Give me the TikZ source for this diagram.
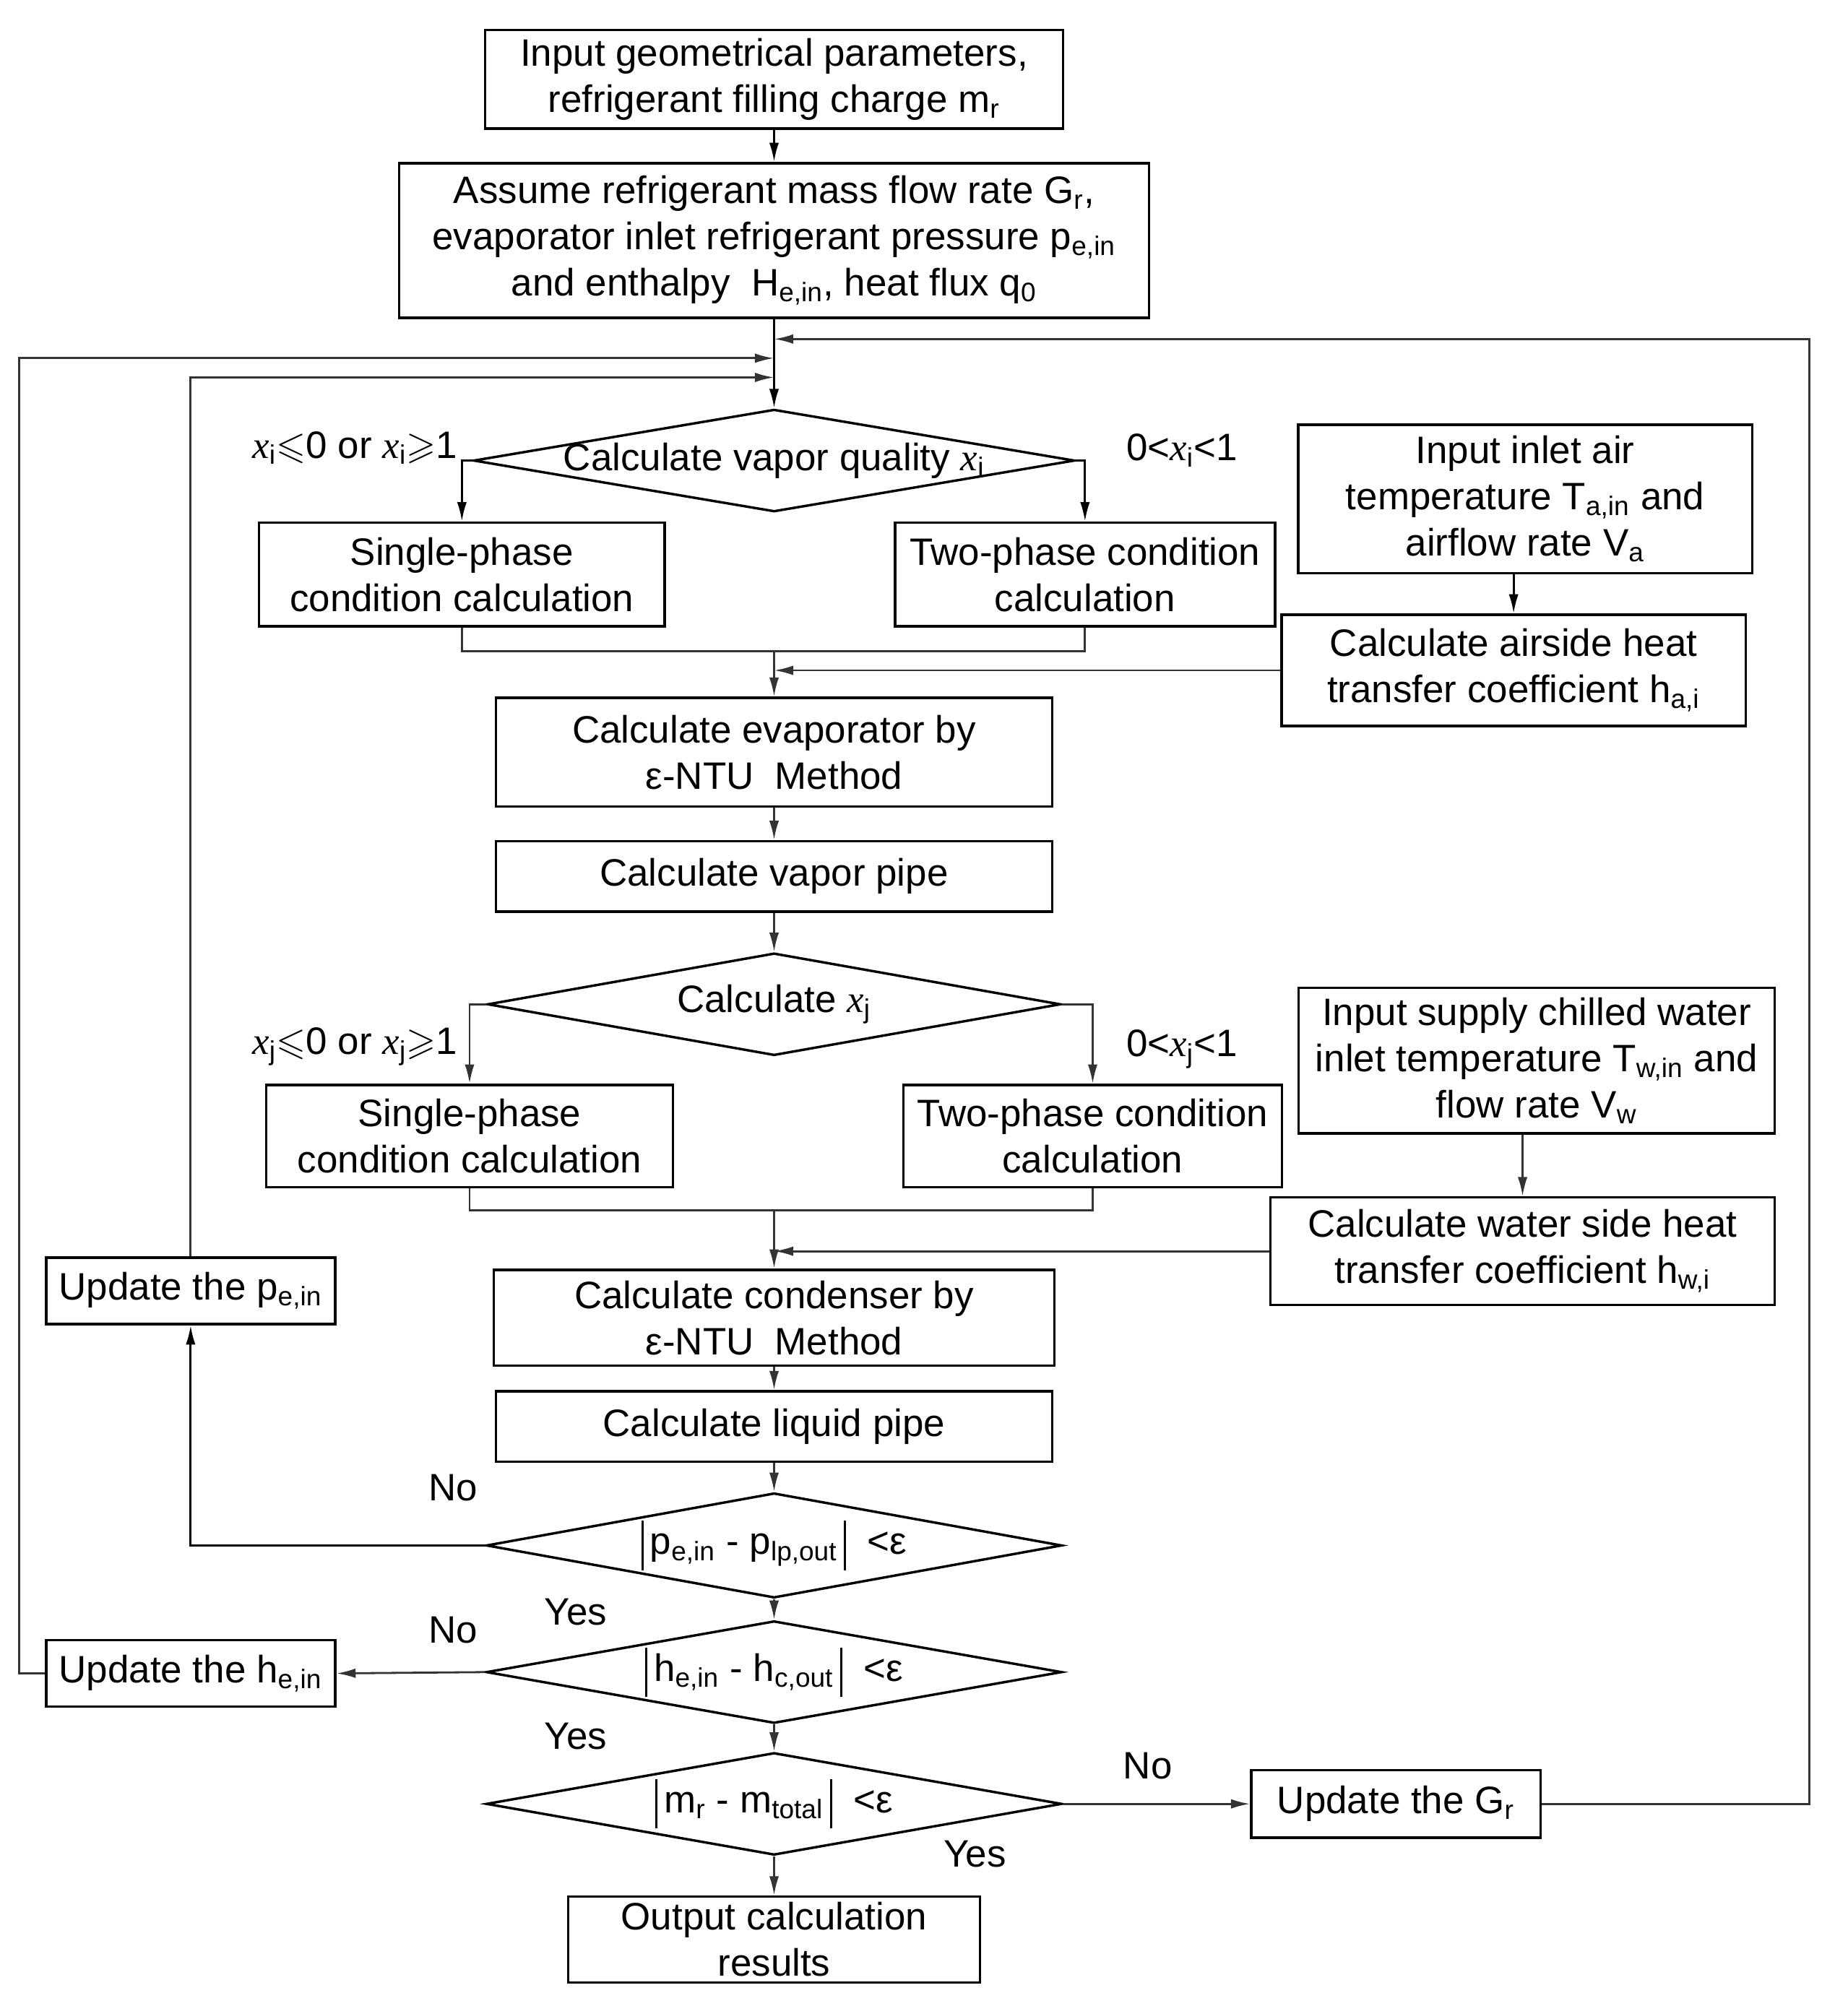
\documentclass[tikz,border=0pt]{standalone}
\usepackage{amsmath}
\usepackage{amssymb}
\usepackage{fontspec}
\setmainfont{Liberation Sans}
\newfontfamily\tnr{Liberation Serif}
\usetikzlibrary{positioning,shapes.geometric,arrows.meta,calc}
\newcommand{\xq}[1]{{\tnr\itshape x}\textsubscript{#1}}
\newcommand{\flatbox}[1]{\makebox[0pt]{#1}}
\newcommand{\absbar}{\rule[-7pt]{1pt}{22pt}}
\tikzset{
block/.style={
draw,
line width=1.1pt,
inner sep=0pt,align=center},
decision/.style={diamond,draw,line width=1.1pt,inner sep=0pt,minimum height=1.6cm},
line/.style={-{Latex[length=3mm,width=1.5mm]},line width=0.9pt,draw=black!80},
link/.style={line width=0.9pt,draw=black!80},
font={\fontsize{17pt}{20.5pt}\selectfont}
}

\begin{document}
\begin{tikzpicture}[x=0.02cm,y=-0.02cm]
  \useasboundingbox (0,0) rectangle (1444,1568);
  % main column
  \node[block, minimum width=9.04cm, minimum height=1.54cm] (input) at (605,62) {Input geometrical parameters,\\refrigerant filling charge m\textsubscript{r}};
  \node[block, minimum width=11.72cm, minimum height=2.42cm] (assume) at (605,188) {Assume refrigerant mass flow rate G\textsubscript{r},\\evaporator inlet refrigerant pressure p\textsubscript{e,in}\\and enthalpy\ \ H\textsubscript{e,in}, heat flux q\textsubscript{0}};
  \node[decision, minimum width=9.4cm] (calcxi) at (605,360) {\flatbox{Calculate vapor quality \xq{i}}};
  \node[block, minimum width=6.34cm, minimum height=1.62cm] (singleA) at (361,449) {Single-phase\\condition calculation};
  \node[block, minimum width=5.94cm, minimum height=1.62cm] (twoA) at (848,449) {Two-phase condition\\calculation};
  \node[block, minimum width=7.1cm, minimum height=2.32cm] (air) at (1192,390) {Input inlet air\\temperature T\textsubscript{a,in} and\\airflow rate V\textsubscript{a}};
  \node[block, minimum width=7.26cm, minimum height=1.74cm] (airhtc) at (1183,524) {Calculate airside heat\\transfer coefficient h\textsubscript{a,i}};
  \node[block, minimum width=8.7cm, minimum height=1.7cm] (evap) at (605,588) {Calculate evaporator by\\ε-NTU\ \ Method};
  \node[block, minimum width=8.7cm, minimum height=1.1cm] (vpipe) at (605,685) {Calculate vapor pipe};
  \node[decision, minimum width=8.96cm] (calcxj) at (605,785) {\flatbox{Calculate \xq{j}}};
  \node[block, minimum width=6.36cm, minimum height=1.6cm] (singleB) at (367,888) {Single-phase\\condition calculation};
  \node[block, minimum width=5.92cm, minimum height=1.6cm] (twoB) at (854,888) {Two-phase condition\\calculation};
  \node[block, minimum width=7.44cm, minimum height=2.28cm] (water) at (1201,829) {Input supply chilled water\\inlet temperature T\textsubscript{w,in} and\\flow rate V\textsubscript{w}};
  \node[block, minimum width=7.88cm, minimum height=1.68cm] (waterhtc) at (1190,978) {Calculate water side heat\\transfer coefficient h\textsubscript{w,i}};
  \node[block, minimum width=8.76cm, minimum height=1.5cm] (cond) at (605,1030) {Calculate condenser by\\ε-NTU\ \ Method};
  \node[block, minimum width=8.7cm, minimum height=1.1cm] (lpipe) at (605,1115) {Calculate liquid pipe};
  \node[decision, minimum width=9cm, minimum height=1.64cm] (checkp) at (605,1208) {\flatbox{\absbar\,p\textsubscript{e,in} - p\textsubscript{lp,out}\,\absbar\ \ <ε}};
  \node[decision, minimum width=9cm] (checkh) at (605,1307) {\flatbox{\absbar\,h\textsubscript{e,in} - h\textsubscript{c,out}\,\absbar\ \ <ε}};
  \node[decision, minimum width=9cm] (checkm) at (605,1410) {\flatbox{\absbar\,m\textsubscript{r} - m\textsubscript{total}\,\absbar\ \ <ε}};
  \node[block, minimum width=6.44cm, minimum height=1.34cm] (output) at (605,1516) {Output calculation\\results};
  % update boxes
  \node[block, minimum width=4.52cm, minimum height=1.04cm] (updp) at (149,1009) {Update the p\textsubscript{e,in}};
  \node[block, minimum width=4.52cm, minimum height=1.04cm] (updh) at (149,1308) {Update the h\textsubscript{e,in}};
  \node[block, minimum width=4.52cm, minimum height=1.06cm] (updG) at (1091,1410) {Update the G\textsubscript{r}};
  % branch labels
  \node[anchor=east, inner sep=0pt] (xilow) at (358,350) {\xq{i}$\leqslant$0 or \xq{i}$\geqslant$1};
  \node[anchor=west, inner sep=0pt] (xiin) at (880,352) {0<\xq{i}<1};
  \node[anchor=east, inner sep=0pt] (xjlow) at (358,818) {\xq{j}$\leqslant$0 or \xq{j}$\geqslant$1};
  \node[anchor=west, inner sep=0pt] (xjin) at (880,820) {0<\xq{j}<1};
  \node (nop) at (354,1163) {No};
  \node (yesp) at (450,1260) {Yes};
  \node (noh) at (354,1274) {No};
  \node (yesh) at (450,1357) {Yes};
  \node (nom) at (897,1380) {No};
  \node (yesm) at (762,1449) {Yes};
  % junctions
  \coordinate (jG) at (605,265);
  \coordinate (jh) at (605,280);
  \coordinate (jp) at (605,295);
  \coordinate (rt) at (1414,265);
  \coordinate (lf) at (15,280);
  \coordinate (mA) at (605,509);
  \coordinate (mB) at (605,946);
  % connectors
  \draw[line, draw=black] (input) -- (assume);
  \draw[line, draw=black] (assume) -- (calcxi);
  \draw[line] (updG.east) -| (rt) -- (jG);
  \draw[line] (updh.west) -| (lf) -- (jh);
  \draw[line] (updp.north) |- (jp);
  \draw[line, draw=black] (calcxi.west) -| (singleA.north);
  \draw[line, draw=black] (calcxi.east) -| (twoA.north);
  \draw[link] (singleA.south) |- (mA) -| (twoA.south);
  \draw[line, draw=black] (airhtc.north |- air.south) -- (airhtc.north);
  \draw[line] (airhtc.west) -- (airhtc.west -| mA);
  \draw[line] (mA) -- (evap);
  \draw[line] (evap) -- (vpipe);
  \draw[line] (vpipe) -- (calcxj);
  \draw[line] (calcxj.west) -| (singleB.north);
  \draw[line] (calcxj.east) -| (twoB.north);
  \draw[link] (singleB.south) |- (mB) -| (twoB.south);
  \draw[line] (waterhtc.north |- water.south) -- (waterhtc.north);
  \draw[line] (waterhtc.west) -- (waterhtc.west -| mB);
  \draw[line] (mB) -- (cond);
  \draw[line] (cond) -- (lpipe);
  \draw[line] (lpipe) -- (checkp);
  \draw[line, draw=black] (checkp.west) -| (updp.south);
  \draw[line] (checkp) -- (checkh);
  \draw[line] (checkh.west) -- (updh.east);
  \draw[line] (checkh) -- (checkm);
  \draw[line] (checkm.east) -- (updG.west);
  \draw[line] (checkm) -- (output);
\end{tikzpicture}
\end{document}
